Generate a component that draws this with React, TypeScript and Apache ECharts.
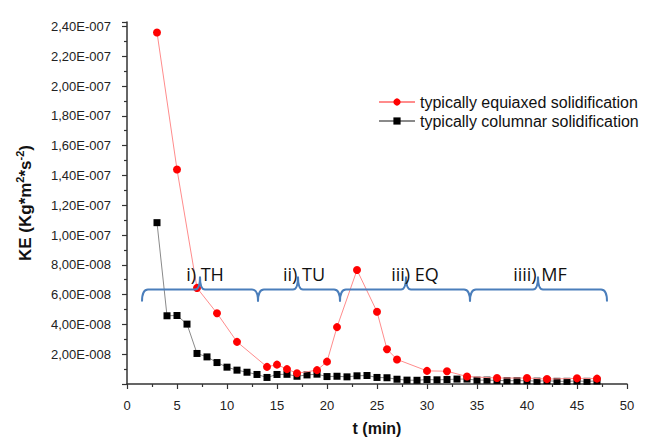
import React, { useEffect, useRef } from "react";
import * as echarts from "echarts";

// Typically equiaxed solidification (red circles)
const equiaxedT = [3, 5, 7, 9, 11, 14, 15, 16, 17, 19, 20, 21, 23, 25, 26, 27, 30, 32, 34, 37, 40, 42, 45, 47];
const equiaxedKE = [
  2.36e-7, 1.44e-7, 6.45e-8, 4.75e-8, 2.83e-8, 1.15e-8, 1.3e-8, 1.0e-8, 0.72e-8, 0.93e-8, 1.5e-8, 3.82e-8,
  7.65e-8, 4.85e-8, 2.33e-8, 1.65e-8, 0.88e-8, 0.86e-8, 0.5e-8, 0.4e-8, 0.4e-8, 0.33e-8, 0.38e-8, 0.36e-8,
];

// Typically columnar solidification (black squares)
const columnarT = [3, 4, 5, 6, 7, 8, 9, 10, 11, 12, 13, 14, 15, 16, 17, 18, 19, 20, 21, 22, 23, 24, 25, 26, 27, 28, 29, 30, 31, 32, 33, 34, 35, 36, 37, 38, 39, 40, 41, 42, 43, 44, 45, 46, 47];
const columnarKE = [
  1.083e-7, 4.58e-8, 4.6e-8, 4.02e-8, 2.05e-8, 1.82e-8, 1.44e-8, 1.13e-8, 0.93e-8, 0.79e-8, 0.64e-8, 0.44e-8,
  0.64e-8, 0.65e-8, 0.52e-8, 0.61e-8, 0.66e-8, 0.5e-8, 0.52e-8, 0.48e-8, 0.55e-8, 0.57e-8, 0.44e-8, 0.42e-8,
  0.32e-8, 0.26e-8, 0.25e-8, 0.3e-8, 0.28e-8, 0.3e-8, 0.33e-8, 0.33e-8, 0.26e-8, 0.26e-8, 0.24e-8, 0.22e-8,
  0.22e-8, 0.22e-8, 0.19e-8, 0.22e-8, 0.18e-8, 0.18e-8, 0.2e-8, 0.18e-8, 0.2e-8,
];

// Solidification phases (braces): start, peak, end (t, min)
const phaseLabels = ["i) TH", "ii) TU", "iii) EQ", "iiii) MF"];
const phaseStart = [1.5, 13.1, 21.3, 34.3];
const phasePeak = [7.3, 17.1, 27.9, 41.1];
const phaseEnd = [13.1, 21.3, 34.3, 48.0];
const phaseLabelT = [7.8, 17.7, 28.8, 41.3];
const phaseLevel = 6.35e-8;
const phaseLabelLevel = 7.38e-8;

const seriesNames = ["typically equiaxed solidification", "typically columnar solidification"];

function fmtY(v: number): string {
  if (v <= 0) return "";
  const e = Math.floor(Math.log10(v) + 1e-9);
  const m = v / Math.pow(10, e);
  const sign = e < 0 ? "-" : "+";
  return `${m.toFixed(2).replace(".", ",")}E${sign}${String(Math.abs(e)).padStart(3, "0")}`;
}

const FONT = "Arial, 'Liberation Sans', sans-serif";

export default function App() {
  const ref = useRef<HTMLDivElement>(null);
  useEffect(() => {
    if (!ref.current) return;
    const chart = echarts.init(ref.current, undefined, { renderer: "svg" });
    const braceColor = "#4a7ebb";
    chart.setOption({
      animation: false,
      backgroundColor: "#ffffff",
      grid: { left: 127, right: 22, top: 22, bottom: 57, containLabel: false },
      legend: {
        data: seriesNames,
        orient: "vertical",
        left: 373,
        top: 89,
        itemWidth: 36,
        itemHeight: 9,
        itemGap: 3,
        textStyle: { fontFamily: FONT, fontSize: 16, color: "#111" },
      },
      xAxis: {
        type: "value",
        min: 0,
        max: 50,
        interval: 5,
        name: "t (min)",
        nameLocation: "middle",
        nameGap: 36,
        nameTextStyle: { fontFamily: FONT, fontWeight: "bold", fontSize: 16, color: "#111" },
        axisLine: { lineStyle: { color: "#333", width: 1.5 } },
        axisTick: { show: true, length: 5, lineStyle: { color: "#333", width: 1.2 } },
        minorTick: { show: true, splitNumber: 2, length: 3, lineStyle: { color: "#333", width: 1.2 } },
        axisLabel: { margin: 15, fontFamily: FONT, fontSize: 13, color: "#222" },
        splitLine: { show: false },
      },
      yAxis: {
        type: "value",
        min: 0,
        max: 2.43e-7,
        interval: 2e-8,
        name: "{b|KE (Kg*m}{s|2}{b|*s}{s|-2}{b|)}",
        nameLocation: "middle",
        nameGap: 93,
        nameTextStyle: {
          rich: {
            b: { fontFamily: FONT, fontWeight: "bold", fontSize: 17, color: "#111", verticalAlign: "bottom", lineHeight: 20 },
            s: { fontFamily: FONT, fontWeight: "bold", fontSize: 11, color: "#111", verticalAlign: "top", lineHeight: 20 },
          },
        },
        axisLine: { show: true, lineStyle: { color: "#333", width: 1.5 } },
        axisTick: { show: true, length: 5, lineStyle: { color: "#333", width: 1.2 } },
        minorTick: { show: true, splitNumber: 2, length: 3, lineStyle: { color: "#333", width: 1.2 } },
        axisLabel: {
          margin: 16,
          showMaxLabel: false,
          fontFamily: FONT,
          fontSize: 13,
          color: "#222",
          formatter: (v: number) => fmtY(v),
        },
        splitLine: { show: false },
      },
      series: [
        {
          name: seriesNames[0],
          type: "line",
          data: equiaxedT.map((t, i) => [t, equiaxedKE[i]]),
          symbol: "circle",
          symbolSize: 8,
          itemStyle: { color: "#ff0000" },
          lineStyle: { color: "#ff8c8c", width: 1 },
          z: 3,
        },
        {
          name: seriesNames[1],
          type: "line",
          data: columnarT.map((t, i) => [t, columnarKE[i]]),
          symbol: "rect",
          symbolSize: 7,
          itemStyle: { color: "#000000" },
          lineStyle: { color: "#8a8a8a", width: 1 },
          z: 2,
        },
        {
          type: "custom",
          name: "phases",
          silent: true,
          z: 4,
          data: phaseStart.map((s) => [s, phaseLevel]),
          encode: { x: 0, y: 1 },
          renderItem: (params: any, api: any) => {
            const i = params.dataIndex;
            const p0 = api.coord([phaseStart[i], phaseLevel]);
            const pp = api.coord([phasePeak[i], phaseLevel]);
            const p1 = api.coord([phaseEnd[i], phaseLevel]);
            const pl = api.coord([phaseLabelT[i], phaseLabelLevel]);
            const y = p0[1];
            const d =
              `M ${p0[0]} ${y + 12} Q ${p0[0]} ${y} ${p0[0] + 6} ${y} ` +
              `L ${pp[0] - 5} ${y} Q ${pp[0]} ${y} ${pp[0]} ${y - 13} ` +
              `Q ${pp[0]} ${y} ${pp[0] + 5} ${y} ` +
              `L ${p1[0] - 6} ${y} Q ${p1[0]} ${y} ${p1[0]} ${y + 12}`;
            return {
              type: "group",
              children: [
                {
                  type: "path",
                  shape: { pathData: d },
                  style: { stroke: braceColor, fill: "none", lineWidth: 2 },
                },
                {
                  type: "text",
                  x: pl[0],
                  y: pl[1],
                  style: {
                    text: phaseLabels[i],
                    fill: "#111",
                    font: "18px 'Open Sans', 'Noto Sans', sans-serif",
                    align: "center",
                    verticalAlign: "middle",
                  },
                },
              ],
            };
          },
        },
      ],
    });
    return () => chart.dispose();
  }, []);
  return (
    <div
      ref={ref}
      style={{ position: "fixed", left: 0, top: 0, width: 649, height: 441, background: "#fff" }}
    />
  );
}
